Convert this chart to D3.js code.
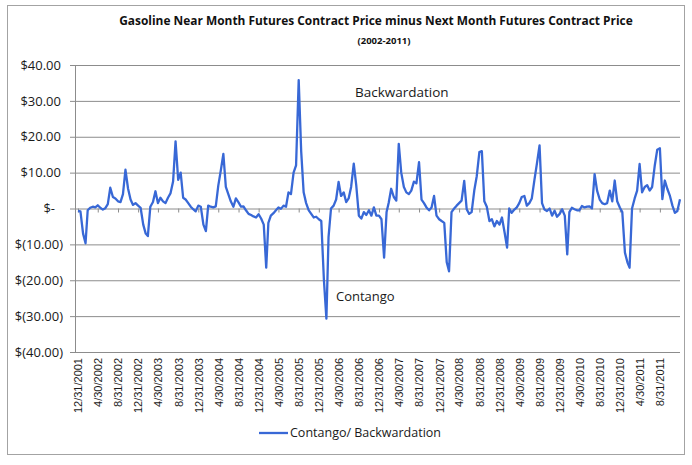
<!DOCTYPE html>
<html>
<head>
<meta charset="utf-8">
<script src="https://cdn.jsdelivr.net/npm/d3@7"></script>
<style>
  body { margin: 0; background: #fff; }
  svg { display: block; }
</style>
</head>
<body>
<svg id="chart" width="692" height="465"></svg>
<script>
// values, two points per month (15th and month end)
const startDate = "12/31/2001";
const startValue = -0.7;
const years = [2002, 2003, 2004, 2005, 2006, 2007, 2008, 2009, 2010, 2011];
const y2002 = [-0.8, -7.0, -9.7, -0.5, 0.2, 0.5, 0.3, 0.9, 0.2, -0.3, 0.1, 1.2, 5.8, 3.2, 2.8, 2.0, 1.8, 4.0, 10.8, 5.5, 2.5, 1.0, 1.5, 0.8];
const y2003 = [0.2, -4.5, -7.0, -7.7, 0.5, 1.8, 4.8, 1.5, 3.0, 2.0, 1.5, 3.0, 4.2, 7.5, 18.7, 8.0, 10.0, 3.0, 2.5, 1.5, 0.5, -0.2, -0.8, 0.8];
const y2004 = [0.5, -4.5, -6.3, 0.8, 0.5, 0.3, 0.6, 6.3, 10.5, 15.2, 6.0, 4.0, 2.0, 0.5, 2.8, 1.7, 0.5, 0.6, -0.5, -1.5, -1.8, -2.2, -2.5, -1.6];
const y2005 = [-2.8, -4.5, -16.5, -4.0, -2.0, -1.3, -0.5, 0.3, -0.1, 0.8, 0.5, 4.5, 4.0, 10.0, 12.0, 35.8, 16.0, 4.5, 1.5, -0.5, -1.5, -2.5, -2.3, -3.0];
const y2006 = [-3.5, -20.0, -30.7, -8.0, 0.0, 0.8, 2.5, 7.4, 3.5, 4.5, 1.8, 2.8, 6.0, 12.5, 6.5, -2.0, -2.8, -1.0, -1.8, -0.5, -2.0, 0.3, -2.0, -2.0];
const y2007 = [-3.0, -13.7, -1.0, 1.6, 5.5, 3.2, 2.2, 18.0, 10.0, 6.0, 4.5, 4.0, 5.0, 7.5, 7.0, 12.9, 2.5, 1.5, 0.3, -0.5, 0.3, 3.5, -2.0, -3.0];
const y2008 = [-3.5, -4.0, -15.0, -17.5, -1.0, 0.0, 0.8, 1.5, 2.2, 7.7, -0.2, -1.5, -1.0, 5.0, 9.0, 15.7, 16.0, 2.0, 0.5, -3.5, -3.0, -5.0, -3.5, -4.5];
const y2009 = [-2.5, -6.7, -10.9, 0.0, -1.2, -0.3, 0.3, 1.5, 3.2, 3.5, 0.8, 1.5, 2.8, 8.0, 12.5, 17.6, 1.5, -0.3, -0.7, 0.0, -2.0, -0.6, -2.3, -1.5];
const y2010 = [-0.2, -2.0, -12.8, -1.0, 0.2, -0.2, -0.5, -0.5, 0.7, 0.3, 0.5, 0.6, 0.0, 9.6, 5.0, 2.5, 1.5, 1.2, 1.5, 5.0, 2.0, 7.8, 2.0, 0.3];
const y2011 = [-1.0, -12.3, -15.0, -16.5, 0.0, 2.8, 5.0, 12.4, 4.5, 6.0, 6.5, 5.0, 6.0, 12.0, 16.4, 16.8, 2.6, 7.8, 5.5, 3.5, 0.8, -1.2, -0.7, 2.6];
const yearValues = [y2002, y2003, y2004, y2005, y2006, y2007, y2008, y2009, y2010, y2011];

const yTicks = [40, 30, 20, 10, 0, -10, -20, -30, -40];
const xTickLabels = ["12/31/2001", "4/30/2002", "8/31/2002", "12/31/2002", "4/30/2003", "8/31/2003",
  "12/31/2003", "4/30/2004", "8/31/2004", "12/31/2004", "4/30/2005", "8/31/2005",
  "12/31/2005", "4/30/2006", "8/31/2006", "12/31/2006", "4/30/2007", "8/31/2007",
  "12/31/2007", "4/30/2008", "8/31/2008", "12/31/2008", "4/30/2009", "8/31/2009",
  "12/31/2009", "4/30/2010", "8/31/2010", "12/31/2010", "4/30/2011", "8/31/2011"];

const titleText = "Gasoline Near Month Futures Contract Price minus Next Month Futures Contract Price";
const subtitleText = "(2002-2011)";
const seriesName = "Contango/ Backwardation";

const parse = d3.timeParse("%m/%d/%Y");
const data = [{ date: parse(startDate), value: startValue }];
years.forEach((yr, i) => {
  yearValues[i].forEach((v, j) => {
    const m = Math.floor(j / 2);
    const date = j % 2 === 0 ? new Date(yr, m, 15) : new Date(yr, m + 1, 0);
    data.push({ date, value: v });
  });
});

const sans = "'Open Sans', 'Noto Sans', sans-serif";
const arial = "'Liberation Sans', Arial, sans-serif";
const blue = "#3868d6";
const grid = "#8c8c8c";

const svg = d3.select("#chart");
const plot = { left: 75, right: 680, top: 65, bottom: 352 };

svg.append("rect")
    .attr("x", 7.5).attr("y", 5.5)
    .attr("width", 677).attr("height", 449)
    .attr("fill", "#fff")
    .attr("stroke", "#a3a3a3");

const x = d3.scaleTime()
    .domain([new Date(2001, 11, 13), new Date(2011, 11, 31)])
    .range([plot.left, plot.right]);

const y = d3.scaleLinear()
    .domain([-40, 40])
    .range([plot.bottom, plot.top]);

// gridlines
svg.append("g")
    .attr("transform", `translate(${plot.left},0)`)
    .call(d3.axisLeft(y).tickValues(yTicks).tickSize(-(plot.right - plot.left)).tickFormat(""))
    .call(g => g.select(".domain").remove())
    .call(g => g.selectAll("line").attr("stroke", grid).attr("stroke-width", 1));

const fmt = v => v === 0 ? "$-" : v > 0 ? "$" + v.toFixed(2) : "$(" + Math.abs(v).toFixed(2) + ")";

const yAxis = svg.append("g")
    .attr("transform", `translate(${plot.left},0)`)
    .call(d3.axisLeft(y).tickValues(yTicks).tickSize(5).tickPadding(8).tickFormat(fmt));
yAxis.select(".domain").attr("stroke", grid);
yAxis.selectAll("line").attr("stroke", grid);
yAxis.selectAll("text")
    .attr("fill", "#1a1a1a")
    .style("font", `13px ${sans}`)
    .attr("x", d => d === 0 ? -20 : d > 0 ? -14 : -12);

// small ticks on the zero line
const tickDates = xTickLabels.map(parse);
svg.append("g")
    .attr("transform", `translate(0,${y(0)})`)
    .call(d3.axisBottom(x).tickValues(tickDates).tickSize(4).tickFormat(""))
    .call(g => g.select(".domain").remove())
    .call(g => g.selectAll("line").attr("stroke", grid));

// date labels below the plot
const xAxis = svg.append("g")
    .attr("transform", `translate(0,${plot.bottom})`)
    .call(d3.axisBottom(x).tickValues(tickDates).tickSize(0).tickFormat((d, i) => xTickLabels[i]));
xAxis.select(".domain").remove();
xAxis.selectAll("text")
    .attr("transform", "rotate(-90)")
    .attr("text-anchor", "end")
    .attr("x", -6)
    .attr("y", 0)
    .attr("dy", "0.35em")
    .attr("fill", "#1a1a1a")
    .style("font", `11px ${arial}`);

// series
const line = d3.line()
    .x(d => x(d.date))
    .y(d => y(d.value));

svg.append("path")
    .datum(data)
    .attr("fill", "none")
    .attr("stroke", blue)
    .attr("stroke-width", 2.3)
    .attr("stroke-linejoin", "round")
    .attr("d", line);

// title
const title = svg.append("text")
    .attr("x", 376).attr("y", 25)
    .attr("text-anchor", "middle")
    .attr("fill", "#111")
    .style("font", `bold 12px ${sans}`)
    .text(titleText);
const tl = title.node().getComputedTextLength();
title.style("font-size", (12 * 514 / tl).toFixed(2) + "px");

svg.append("text")
    .attr("x", 384).attr("y", 44)
    .attr("text-anchor", "middle")
    .attr("fill", "#111")
    .style("font", `bold 9.5px ${sans}`)
    .text(subtitleText);

// annotations
svg.append("text")
    .attr("x", 355).attr("y", 97)
    .attr("fill", "#1a1a1a")
    .style("font", `13.5px ${sans}`)
    .text("Backwardation");

svg.append("text")
    .attr("x", 336).attr("y", 301)
    .attr("fill", "#1a1a1a")
    .style("font", `13px ${sans}`)
    .text("Contango");

// legend
const legend = svg.append("g").attr("transform", "translate(259,433)");
legend.append("line")
    .attr("x1", 0).attr("x2", 29)
    .attr("stroke", blue)
    .attr("stroke-width", 2.3);
legend.append("text")
    .attr("x", 31).attr("dy", "0.35em")
    .attr("fill", "#1a1a1a")
    .style("font", `12.5px ${sans}`)
    .text(seriesName);
</script>
</body>
</html>
